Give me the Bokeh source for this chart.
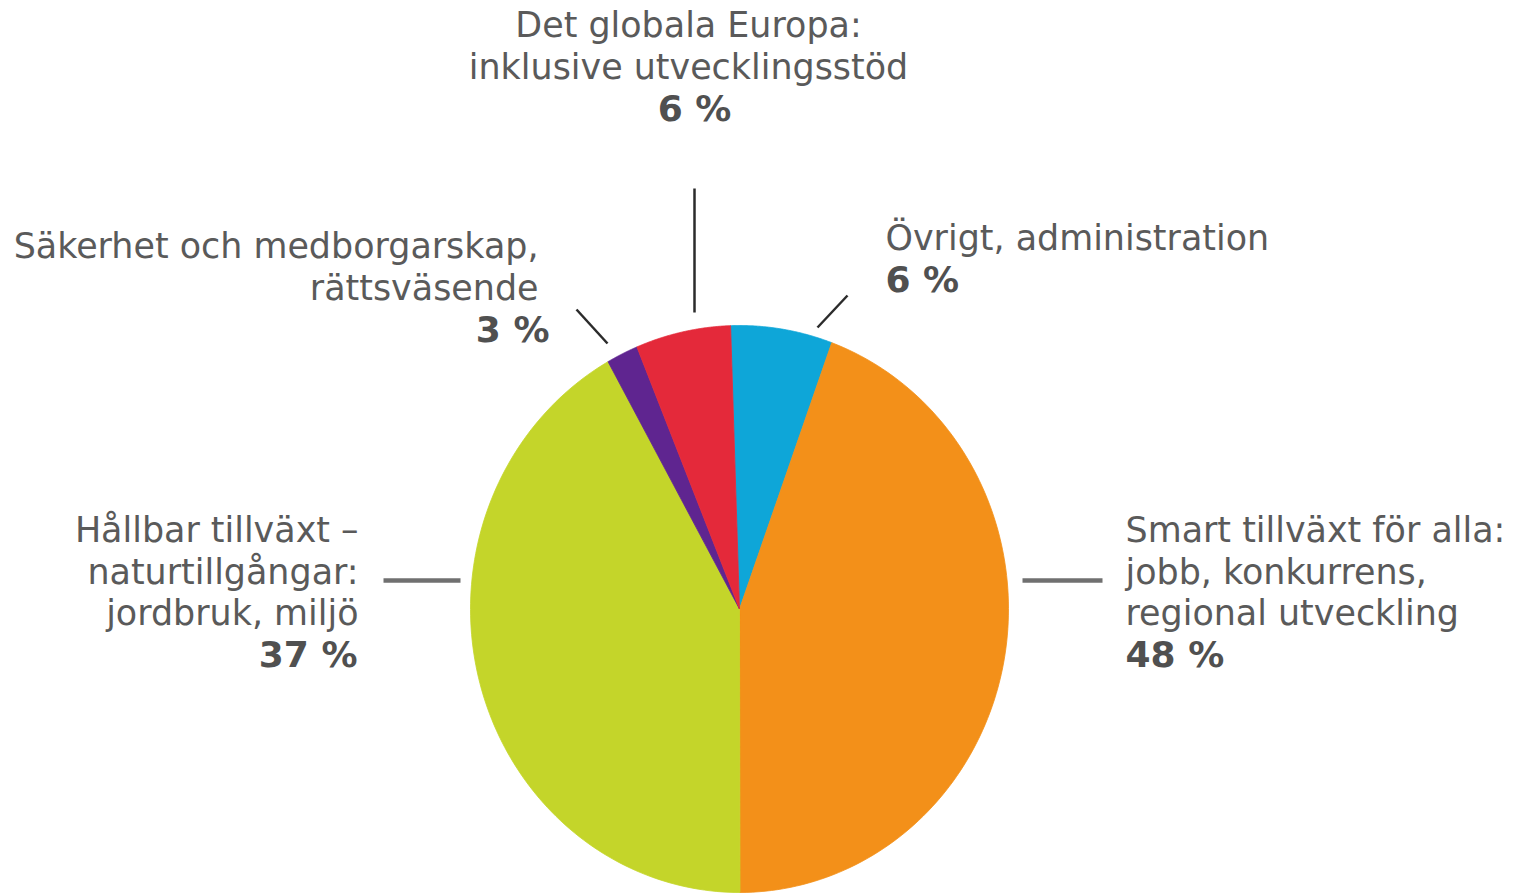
import numpy as np
from bokeh.plotting import figure
from bokeh.models import Range1d
from bokeh.core.properties import value
from bokeh.embed import file_html
from bokeh.resources import INLINE

# ---------------- data ----------------
categories = [
    "Övrigt, administration",
    "Smart tillväxt för alla",
    "Hållbar tillväxt",
    "Säkerhet och medborgarskap",
    "Det globala Europa",
]
# slice shares as drawn in the picture (percent), clockwise from the top
slice_share = [6.1, 44.4, 41.9, 1.9, 5.7]
# printed percentages
pct_labels = ["6 %", "48 %", "37 %", "3 %", "6 %"]
# label text lines
label_lines = [
    ["Övrigt, administration"],
    ["Smart tillväxt för alla:", "jobb, konkurrens,", "regional utveckling"],
    ["Hållbar tillväxt –", "naturtillgångar:", "jordbruk, miljö"],
    ["Säkerhet och medborgarskap,", "rättsväsende"],
    ["Det globala Europa:", "inklusive utvecklingsstöd"],
]
colors = ["#0ea6d8", "#f39019", "#c4d52a", "#5f2590", "#e4293a"]

# ---------------- layout ----------------
W, H = 1518, 893
CX, CY, RX, RY = 739, 608.5, 269, 283.5
START_DEG = -1.9
FONT = "DejaVu Sans"
FS = "34.9px"
FS_B = "36px"
LH = 41.6
DY = -12.5  # baseline correction
TXT = "#5a5a5a"
BOLD = "#505050"
# (x, align, first baseline, x of pct line)
label_pos = [
    (885, "left", 250, 885),
    (1125, "left", 542, 1125),
    (358, "right", 542, 357),
    (538, "right", 258, 549),
    (688, "center", 37, 694),
]
leaders = [
    ((847, 295), (817, 327), "#2b2b2b", 2.5),
    ((1022, 580), (1102, 580), "#707070", 4.5),
    ((383, 580), (460, 580), "#707070", 4.5),
    ((576, 309), (607, 343), "#2b2b2b", 2.5),
    ((694, 188), (694, 312), "#2b2b2b", 2.5),
]

p = figure(width=W, height=H, x_range=Range1d(0, W), y_range=Range1d(H, 0),
           output_backend="svg", toolbar_location=None, min_border=0)
p.axis.visible = False
p.grid.visible = False
p.outline_line_color = None
p.background_fill_color = "white"

# pie slices as elliptical sectors
shares = np.array(slice_share, dtype=float)
ends = START_DEG + np.cumsum(shares) / shares.sum() * 360.0
starts = np.concatenate([[START_DEG], ends[:-1]])
xs, ys = [], []
for a, b in zip(starts, ends):
    t = np.radians(np.linspace(a, b, 120))
    xs.append([CX] + list(CX + RX * np.sin(t)) + [CX])
    ys.append([CY] + list(CY - RY * np.cos(t)) + [CY])
p.patches(xs=xs, ys=ys, fill_color=colors, line_color=colors, line_width=0.8)

# leader lines
for (x0, y0), (x1, y1), c, w in leaders:
    p.segment(x0=[x0], y0=[y0], x1=[x1], y1=[y1], line_color=c, line_width=w)

# labels
for lines, pct, (x, align, y0, xp) in zip(label_lines, pct_labels, label_pos):
    ys_l = [y0 + DY + i * LH for i in range(len(lines))]
    p.text(x=[x] * len(lines), y=ys_l, text=lines, text_align=align,
           text_baseline="alphabetic", text_font=value(FONT),
           text_font_size=FS, text_color=TXT)
    p.text(x=[xp], y=[y0 + DY + len(lines) * LH], text=[pct], text_align=align,
           text_baseline="alphabetic", text_font=value(FONT),
           text_font_size=FS_B, text_font_style="bold", text_color=BOLD)

open("out.html", "w").write(file_html(p, INLINE))
